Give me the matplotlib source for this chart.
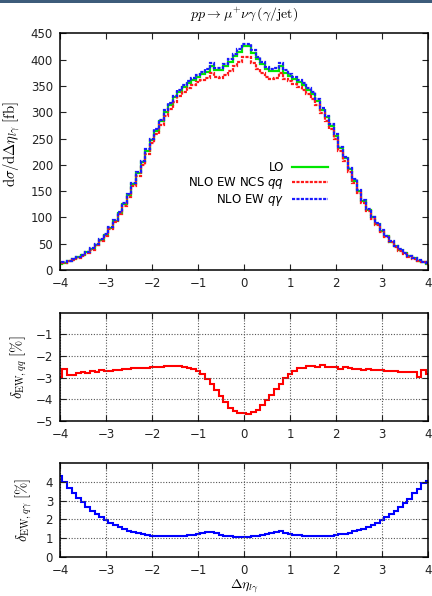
import numpy as np
import matplotlib
matplotlib.use("Agg")
import matplotlib.pyplot as plt
from matplotlib.patches import Rectangle
from matplotlib.font_manager import FontProperties

plt.rcParams["font.family"] = "DejaVu Sans"
plt.rcParams["mathtext.fontset"] = "cm"

# bin centres of the Delta eta histogram (width 0.1)
eta_centres = [round(-4.0 + 0.1 * i, 1) for i in range(81)]

# LO cross section per bin [fb]
lo_xsec = [
    12, 14, 17, 20, 24, 28, 34, 40, 48, 57,
    67, 80, 94, 109, 125, 143, 164, 184, 205, 227,
    247, 265, 283, 300, 314, 328, 339, 347, 355, 361,
    367, 372, 377, 388, 380, 380, 387, 396, 406, 415,
    425, 425, 413, 401, 391, 382, 378, 379, 388, 375,
    369, 363, 357, 351, 343, 334, 322, 305, 290, 274,
    255, 232, 212, 192, 170, 150, 131, 115, 100, 87,
    75, 64, 54, 45, 38, 32, 26, 22, 18, 15,
    12,
]

# relative EW corrections [%]
delta_qq = [
    -2.98, -2.58, -2.86, -2.86, -2.78, -2.72, -2.80, -2.67, -2.72, -2.64,
    -2.69, -2.69, -2.63, -2.63, -2.61, -2.61, -2.55, -2.55, -2.55, -2.55,
    -2.50, -2.50, -2.50, -2.44, -2.44, -2.44, -2.44, -2.49, -2.54, -2.59,
    -2.70, -2.83, -3.05, -3.29, -3.55, -3.86, -4.12, -4.40, -4.52, -4.63,
    -4.65, -4.66, -4.58, -4.50, -4.27, -4.04, -3.78, -3.52, -3.27, -3.01,
    -2.81, -2.67, -2.55, -2.55, -2.47, -2.47, -2.50, -2.42, -2.49, -2.49,
    -2.49, -2.60, -2.49, -2.56, -2.59, -2.59, -2.64, -2.58, -2.64, -2.64,
    -2.64, -2.70, -2.68, -2.67, -2.72, -2.76, -2.76, -2.76, -2.96, -2.66,
    -2.82,
]

delta_qgam = [
    4.32, 3.98, 3.67, 3.42, 3.16, 2.91, 2.68, 2.46, 2.28, 2.10,
    1.96, 1.82, 1.69, 1.57, 1.48, 1.39, 1.32, 1.25, 1.20, 1.14,
    1.12, 1.10, 1.09, 1.09, 1.09, 1.09, 1.09, 1.11, 1.14, 1.18,
    1.23, 1.28, 1.32, 1.33, 1.25, 1.18, 1.12, 1.09, 1.06, 1.05,
    1.05, 1.07, 1.09, 1.12, 1.16, 1.21, 1.26, 1.30, 1.35, 1.28,
    1.23, 1.18, 1.14, 1.11, 1.09, 1.09, 1.09, 1.09, 1.09, 1.11,
    1.14, 1.20, 1.23, 1.28, 1.35, 1.42, 1.49, 1.58, 1.69, 1.82,
    1.96, 2.10, 2.26, 2.44, 2.64, 2.85, 3.08, 3.39, 3.65, 3.96,
    4.05,
]

x_ticks = [-4, -3, -2, -1, 0, 1, 2, 3, 4]

centres = np.array(eta_centres)
edges = np.append(centres - 0.05, centres[-1] + 0.05)
lo = np.array(lo_xsec, dtype=float)
nlo_qq = lo * (1 + np.array(delta_qq) / 100)
nlo_qgam = lo * (1 + np.array(delta_qgam) / 100)

W, H = 432, 596
fig = plt.figure(figsize=(W / 100, H / 100), dpi=100)
fig.add_artist(Rectangle((0, 1 - 3 / H), 1, 3 / H, transform=fig.transFigure,
                         color="#3d5c7a", lw=0))

left = 60 / W
width = 368 / W
ax_main = fig.add_axes([left, 1 - 270 / H, width, 236.7 / H])
ax_qq = fig.add_axes([left, 1 - 421 / H, width, 108.3 / H])
ax_qg = fig.add_axes([left, 1 - 556.7 / H, width, 93.4 / H])

for ax in (ax_main, ax_qq, ax_qg):
    ax.set_xlim(-4, 4)
    ax.set_xticks(x_ticks)
    ax.tick_params(direction="in", length=4, width=0.8, labelsize=8.5,
                   top=True, right=True, pad=5, colors="#222222")
    for sp in ax.spines.values():
        sp.set_linewidth(1.1)

dash = (0, (1.4, 0.6))
ax_main.stairs(lo, edges, baseline=None, color="#00e600", lw=1.6, label="LO")
ax_main.stairs(nlo_qq, edges, baseline=None, color="#ff1a1a", lw=1.6,
               linestyle=dash, label="NLO EW NCS $qq$")
ax_main.stairs(nlo_qgam, edges, baseline=None, color="#1a1aff", lw=1.6,
               linestyle=dash, label=r"NLO EW $q\gamma$")
ax_main.set_ylim(0, 450)
ax_main.set_yticks(range(0, 451, 50))
ax_main.set_ylabel(r"$\mathrm{d}\sigma/\mathrm{d}\Delta\eta_{l\gamma}\ [\mathrm{fb}]$",
                   fontsize=10.5)
ax_main.yaxis.set_label_coords(-0.103, 0.53)
ax_main.legend(loc="center right", bbox_to_anchor=(0.728, 0.36), frameon=False,
               markerfirst=False, handlelength=3.0, handletextpad=0.7,
               labelspacing=0.1, borderpad=0, borderaxespad=0,
               prop=FontProperties(family="DejaVu Sans", size=8.5,
                                   math_fontfamily="dejavusans"))

ax_qq.stairs(delta_qq, edges, baseline=None, color="#ff0000", lw=1.5)
ax_qq.set_ylim(-5, 0)
ax_qq.set_yticks([-5, -4, -3, -2, -1])
ax_qq.grid(True, linestyle=(0, (1, 1.5)), color="#555555", lw=0.8)
ax_qq.set_ylabel(r"$\delta_{\mathrm{EW},qq}\ [\%]$", fontsize=10.5)
ax_qq.yaxis.set_label_coords(-0.085, 0.5)

ax_qg.stairs(delta_qgam, edges, baseline=None, color="#0000ff", lw=1.5)
ax_qg.set_ylim(0, 5)
ax_qg.set_yticks([0, 1, 2, 3, 4])
ax_qg.grid(True, linestyle=(0, (1, 1.5)), color="#555555", lw=0.8)
ax_qg.set_ylabel(r"$\delta_{\mathrm{EW},q\gamma}\ [\%]$", fontsize=10.5)
ax_qg.yaxis.set_label_coords(-0.07, 0.5)
ax_qg.set_xlabel(r"$\Delta\eta_{l\gamma}$", fontsize=10, labelpad=1)

fig.text(0.565, 1 - 14 / H, r"$pp \rightarrow \mu^{+}\nu\gamma\,(\gamma/\mathrm{jet})$",
         ha="center", va="center", fontsize=10)

fig.savefig("out.png", dpi=100)
